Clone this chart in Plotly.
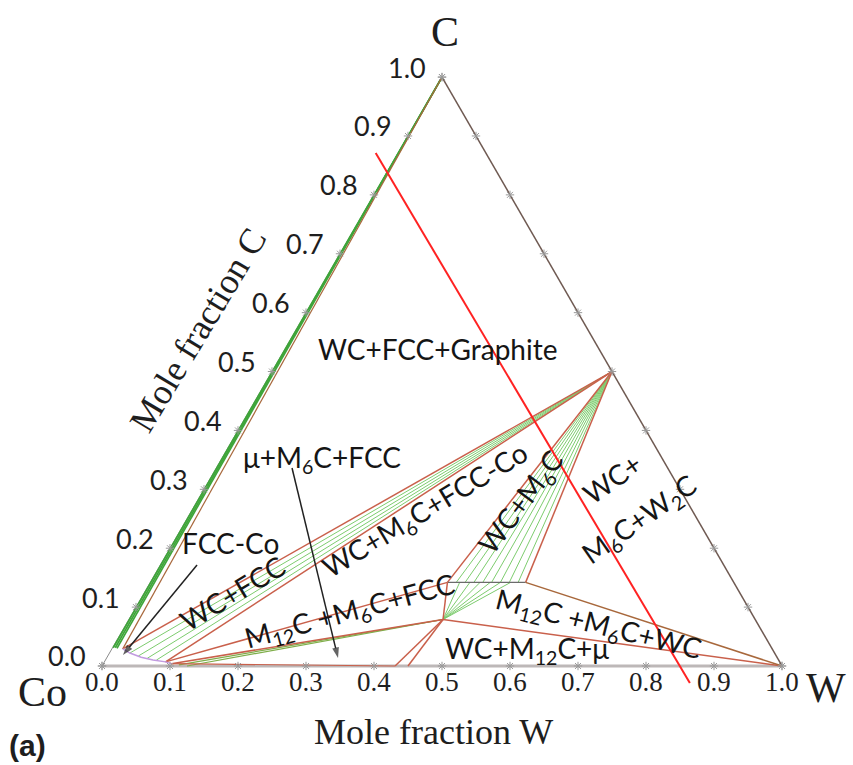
import numpy as np
import plotly.graph_objects as go

# ---------------------------------------------------------------
# Co-W-C isothermal section, compositions as (x_W, x_C)
# ---------------------------------------------------------------
TICK_VALUES = [0.0, 0.1, 0.2, 0.3, 0.4, 0.5, 0.6, 0.7, 0.8, 0.9, 1.0]
TICK_LABELS = ["0.0", "0.1", "0.2", "0.3", "0.4", "0.5", "0.6", "0.7", "0.8", "0.9", "1.0"]

CO = (0.0, 0.0)
W = (1.0, 0.0)
C = (0.0, 1.0)
WC = (0.500, 0.500)
M6C_LO = (0.437, 0.142)
M6C_HI = (0.552, 0.142)
M12C = (0.462, 0.079)
MU_LO = (0.431, 0.000)
MU_HI = (0.450, 0.000)
FCC_GR = (0.016, 0.029)      # FCC corner of WC + FCC + graphite
FCC_M6C = (0.090, 0.007)     # FCC corner of WC + M6C + FCC
FCC_M12C = (0.100, 0.004)    # FCC corner of M12C + M6C + FCC

# FCC solubility limit
FCC_LIMIT_W = [0.016, 0.030, 0.050, 0.070, 0.090, 0.100]
FCC_LIMIT_C = [0.029, 0.022, 0.015, 0.010, 0.007, 0.004]

# tie-line ends
GRAPHITE_TIE_W = [0.001, 0.004, 0.007]
GRAPHITE_TIE_C = [0.031, 0.031, 0.030]
WC_FCC_TIE_W = [0.030, 0.045, 0.060, 0.075]
WC_FCC_TIE_C = [0.022, 0.017, 0.013, 0.010]
M6C_TIE_W = [0.450, 0.463, 0.476, 0.489, 0.502, 0.515, 0.528, 0.541]
M12C_M6C_TIE_W = [0.455, 0.470, 0.485, 0.500, 0.515, 0.530]
M12C_FCC_TIE_W = [0.112, 0.125]
M12C_FCC_TIE_C = [0.002, 0.000]

# vertical section (isopleth)
ISOPLETH_W = [-0.033, 0.879]
ISOPLETH_C = [0.871, -0.029]

S3 = np.sqrt(3.0) / 2.0


def to_xy(w, c):
    w = np.asarray(w, dtype=float)
    c = np.asarray(c, dtype=float)
    return w + c / 2.0, c * S3


fig = go.Figure()


def seg(p, q, color, width, dash=None):
    x, y = to_xy([p[0], q[0]], [p[1], q[1]])
    fig.add_trace(go.Scatter(x=x, y=y, mode="lines", hoverinfo="skip",
                             line=dict(color=color, width=width, dash=dash)))


RED = "#c9604b"
BROWN = "#a8683c"
GREEN = "#7dcc6e"
DARK_GREEN = "#3fa53a"

# triangle frame
seg(CO, C, "#8a8a8a", 1)
seg(CO, W, "#bdb8b8", 3)
seg(W, C, "#6f5a52", 1.5)

# FCC + graphite tie lines
for w_, c_ in zip(GRAPHITE_TIE_W, GRAPHITE_TIE_C):
    seg((w_, c_), C, DARK_GREEN, 1.7)
seg(FCC_GR, C, BROWN, 1.2)

# WC + FCC
for w_, c_ in zip(WC_FCC_TIE_W, WC_FCC_TIE_C):
    seg((w_, c_), WC, GREEN, 1)
seg(FCC_GR, WC, RED, 1.5)
seg(FCC_M6C, WC, RED, 1.5)

# WC + M6C
for w_ in M6C_TIE_W:
    seg((w_, M6C_LO[1]), WC, GREEN, 1)
seg(M6C_LO, WC, RED, 1.5)
seg(M6C_HI, WC, RED, 1.5)

# M12C + M6C
for w_ in M12C_M6C_TIE_W:
    seg((w_, M6C_LO[1]), M12C, GREEN, 1)
seg(M6C_LO, M6C_HI, "#6b6b6b", 1.2)

# M12C + FCC
for w_, c_ in zip(M12C_FCC_TIE_W, M12C_FCC_TIE_C):
    seg((w_, c_), M12C, "#7fae4a", 1.2)

# remaining three-phase boundaries
seg(M6C_LO, FCC_M6C, RED, 1.5)
seg(M12C, FCC_M12C, RED, 1.5)
seg(M6C_LO, M12C, RED, 1.5)
seg(MU_LO, M12C, RED, 1.5)
seg(MU_HI, M12C, RED, 1.5)
seg(MU_LO, FCC_M12C, RED, 1.2)
seg(M12C, W, RED, 1.5)
seg(M6C_HI, W, BROWN, 1.5)

# FCC solubility limit
fx, fy = to_xy(FCC_LIMIT_W, FCC_LIMIT_C)
fig.add_trace(go.Scatter(x=fx, y=fy, mode="lines", hoverinfo="skip",
                         line=dict(color="#c29be0", width=1.5)))

# isopleth
ix, iy = to_xy(ISOPLETH_W, ISOPLETH_C)
fig.add_trace(go.Scatter(x=ix, y=iy, mode="lines", hoverinfo="skip",
                         line=dict(color="#ff2222", width=2)))

# tick marks on the three edges
t = np.array(TICK_VALUES)
bx, by = to_xy(t, np.zeros_like(t))
lx, ly = to_xy(np.zeros_like(t), t)
rx, ry = to_xy(1 - t, t)
fig.add_trace(go.Scatter(
    x=np.concatenate([bx, lx, rx]), y=np.concatenate([by, ly, ry]),
    mode="markers", hoverinfo="skip",
    marker=dict(symbol="asterisk-open", size=7, color="#999999",
                line=dict(color="#999999", width=1))))

# pointer arrows: (head W, head C, tail W, tail C)
ARROWS = [
    (0.0215, 0.0187, 0.0540, 0.1715),
    (0.3403, 0.0136, 0.1113, 0.3363),
]
for hw, hc, tw, tc in ARROWS:
    ax_, ay_ = to_xy([tw, hw], [tc, hc])
    fig.add_trace(go.Scatter(
        x=ax_, y=ay_, mode="lines+markers", hoverinfo="skip",
        line=dict(color="#222222", width=1.5),
        marker=dict(symbol=["circle", "arrow"], size=[0, 11], color="#222222",
                    angleref="previous", line=dict(width=0))))

PX = 1.0 / 680.0
annotations = []

# tick labels
for lab, x0, y0 in zip(TICK_LABELS, bx, by):
    annotations.append(dict(x=x0, y=y0 - 16 * PX, text=lab, showarrow=False,
                            xanchor="center", yanchor="middle",
                            font=dict(family="Liberation Serif", size=27, color="#1e1e1e")))
for lab, x0, y0 in zip(TICK_LABELS, lx, ly):
    annotations.append(dict(x=x0 - 14 * PX, y=y0 + 10 * PX, text=lab, showarrow=False,
                            xanchor="right", yanchor="middle",
                            font=dict(family="Lato", size=27, color="#1e1e1e")))

# phase-field labels: (text, x_W, x_C, angle)
REGION_LABELS = [
    ("WC+FCC+Graphite", 0.2235, 0.5383, 0),
    ("\u03bc+M<sub>6</sub>C+FCC", 0.1478, 0.3515, 0),
    ("FCC-Co", 0.0838, 0.2089, 0),
    ("WC+FCC", 0.1292, 0.1240, -31),
    ("WC+M<sub>6</sub>C+FCC-Co", 0.3440, 0.2630, -31),
    ("M<sub>12</sub>C +M<sub>6</sub>C+FCC", 0.3189, 0.0917, -15),
    ("WC+M<sub>6</sub>C", 0.4787, 0.2765, -53),
    ("WC+", 0.5904, 0.3193, -35),
    ("M<sub>6</sub>C+W<sub>2</sub>C", 0.6670, 0.2479, -35),
    ("M<sub>12</sub>C +M<sub>6</sub>C+WC", 0.6946, 0.0696, 14),
    ("WC+M<sub>12</sub>C+\u03bc", 0.6115, 0.0271, 0),
]
for text, w_, c_, ang in REGION_LABELS:
    x0, y0 = to_xy(w_, c_)
    annotations.append(dict(x=float(x0), y=float(y0), text=text, showarrow=False,
                            textangle=ang, xanchor="center", yanchor="middle",
                            font=dict(family="Lato", size=28, color="#151515")))

# corner and axis titles (plot coordinates)
SERIF = "Liberation Serif"
annotations += [
    dict(x=0.5044, y=0.9324, text="C", showarrow=False,
         font=dict(family=SERIF, size=42, color="#1e1e1e")),
    dict(x=-0.0868, y=-0.0382, text="Co", showarrow=False,
         font=dict(family=SERIF, size=42, color="#1e1e1e")),
    dict(x=1.0650, y=-0.0324, text="W", showarrow=False,
         font=dict(family=SERIF, size=42, color="#1e1e1e")),
    dict(x=0.4868, y=-0.0971, text="Mole fraction W", showarrow=False,
         font=dict(family=SERIF, size=36, color="#1e1e1e")),
    dict(x=0.1412, y=0.4941, text="Mole fraction C", showarrow=False,
         textangle=-59, font=dict(family=SERIF, size=36, color="#1e1e1e")),
    dict(x=-0.1103, y=-0.1162, text="<b>(a)</b>", showarrow=False,
         font=dict(family="Liberation Sans", size=30, color="#1e1e1e")),
]
for a in annotations:
    a.setdefault("xref", "x")
    a.setdefault("yref", "y")

fig.update_layout(
    width=853, height=765,
    margin=dict(l=0, r=0, t=0, b=0),
    paper_bgcolor="white", plot_bgcolor="white",
    showlegend=False,
    xaxis=dict(range=[-0.15, 1.1044], visible=False, fixedrange=True),
    yaxis=dict(range=[-0.1456, 0.9794], visible=False, fixedrange=True),
    annotations=annotations,
)

fig.write_html("out.html")
